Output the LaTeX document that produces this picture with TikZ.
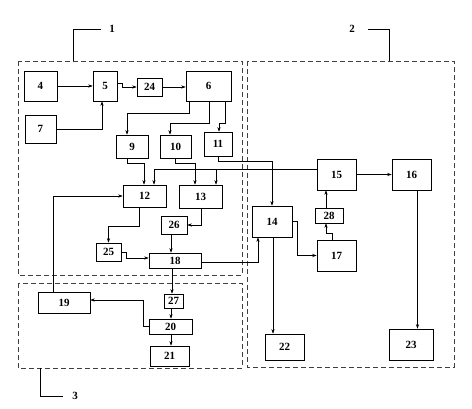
\documentclass[tikz,border=0pt]{standalone}
\usepackage{fontspec}
\setmainfont{Liberation Serif}
\usetikzlibrary{arrows.meta,calc}
\tikzset{
  box/.style={draw, line width=0.6pt, inner sep=0pt, font=\fontsize{11}{13}\selectfont\bfseries},
  arr/.style={line width=0.6pt, -{Stealth[length=4.5pt,width=3.2pt]}},
  ln/.style={line width=0.6pt},
  grp/.style={line width=0.6pt, black!75, dash pattern=on 5pt off 3pt},
  lbl/.style={font=\fontsize{11}{13}\selectfont\bfseries, inner sep=0pt}
}
\begin{document}
\begin{tikzpicture}[x=1pt,y=-1pt]
\useasboundingbox (0,0) rectangle (472,409);
% groups
\draw[grp] (18,61) rectangle (242,275);
\draw[grp] (247,61) rectangle (454,367);
\draw[grp] (18,283) rectangle (242,368);
% leaders
\node[lbl] (l1) at (112,29) {1};
\node[lbl] (l2) at (352,29) {2};
\node[lbl] (l3) at (75,396) {3};
\coordinate (g1) at (73,61);
\coordinate (g2) at (389,61);
\coordinate (g3) at (40,368);
\draw[ln] (g1) |- ([xshift=-11pt]l1.center);
\draw[ln] (g2) |- ([xshift=16pt]l2.center);
\draw[ln] (g3) |- ([xshift=-12pt]l3.center);
% boxes
\node[box, minimum width=33, minimum height=30] (b4) at (40.5,86) {4};
\node[box, minimum width=24, minimum height=30] (b5) at (105,86) {5};
\node[box, minimum width=25, minimum height=18] (b24) at (149.5,87) {24};
\node[box, minimum width=45, minimum height=30] (b6) at (208.5,86) {6};
\node[box, minimum width=31, minimum height=28] (b7) at (40.5,129) {7};
\node[box, minimum width=32, minimum height=23] (b9) at (132,146.5) {9};
\node[box, minimum width=31, minimum height=23] (b10) at (175.5,146.5) {10};
\node[box, minimum width=28, minimum height=24] (b11) at (218,144) {11};
\node[box, minimum width=43, minimum height=22] (b12) at (144.5,196) {12};
\node[box, minimum width=43, minimum height=23] (b13) at (200.5,196.5) {13};
\node[box, minimum width=26, minimum height=18] (b26) at (174,225) {26};
\node[box, minimum width=25, minimum height=18] (b25) at (108.5,252) {25};
\node[box, minimum width=52, minimum height=15] (b18) at (175,260.5) {18};
\node[box, minimum width=40, minimum height=31] (b14) at (272,221.5) {14};
\node[box, minimum width=39, minimum height=31] (b15) at (336.5,174.5) {15};
\node[box, minimum width=39, minimum height=31] (b16) at (411.5,174.5) {16};
\node[box, minimum width=28, minimum height=15] (b28) at (329,215.5) {28};
\node[box, minimum width=39, minimum height=31] (b17) at (336.5,255.5) {17};
\node[box, minimum width=52, minimum height=21] (b19) at (64,302.5) {19};
\node[box, minimum width=19, minimum height=14] (b27) at (173.5,301) {27};
\node[box, minimum width=43, minimum height=15] (b20) at (170.5,326.5) {20};
\node[box, minimum width=39, minimum height=20] (b21) at (169.5,356) {21};
\node[box, minimum width=39, minimum height=26] (b22) at (284.5,347) {22};
\node[box, minimum width=44, minimum height=31] (b23) at (411,344.5) {23};
% connectors
\draw[arr] (b4.east) -- (b5.west);
\draw[arr] (b7.east) -| ([xshift=-3pt]b5.south);
\draw[arr] ([yshift=3pt]b5.east) -- ++(5,0) |- (b24.west);
\draw[arr] (b24.east) -- (b24.east -| b6.west);
\draw[arr] ([xshift=-19.5pt]b6.south) -- ++(0,12) -| ([xshift=-5pt]b9.north);
\draw[arr] ([xshift=0.5pt]b6.south) -- ++(0,22) -| ([xshift=-5.5pt]b10.north);
\draw[arr] ([xshift=16.5pt]b6.south) -- ++(0,22) -| ([xshift=1pt]b11.north);
\draw[arr] ([xshift=-5pt]b9.south) -- ++(0,5) -| ([xshift=-0.5pt]b12.north);
\draw[arr] ([xshift=-0.5pt]b10.south) -- ++(0,5) -| ([xshift=-5.5pt]b13.north);
\draw[arr] (b11.south) -- ++(0,5) -| (b14.north);
\draw[arr] ([yshift=5.5pt]b15.west) -| ([xshift=9.5pt]b12.north);
\draw[arr] ([yshift=5.5pt]b15.west) -| ([xshift=15.5pt]b13.north);
\draw[arr] ([xshift=-5.5pt]b12.south) -- ++(0,19) -| (b25.north);
\draw[arr] ([xshift=0.5pt]b13.south) |- (b26.east);
\draw[arr] ([xshift=-3pt]b26.south) -- ([xshift=-3pt]b26.south |- b18.north);
\draw[arr] (b25.east) -- ++(5,0) |- ([yshift=2.5pt]b18.west);
\draw[arr] ([yshift=-1.5pt]b18.east) -| ([xshift=-14pt]b14.south);
\draw[arr] ([xshift=-11pt]b19.north) |- (b12.west);
\draw[arr] (b14.east) -- ++(5,0) |- (b17.west);
\draw[arr] ([xshift=-4.5pt]b17.north) -- ++(0,-6) -| ([xshift=-3pt]b28.south);
\draw[arr] ([xshift=-3pt]b28.north) -- ([xshift=-3pt]b28.north |- b15.south);
\draw[arr] (b15.east) -- (b16.west);
\draw[arr] ([xshift=6pt]b16.south) -- ([xshift=6pt]b16.south |- b23.north);
\draw[arr] ([xshift=1pt]b14.south) -- ([xshift=1pt]b14.south |- b22.north);
\draw[arr] ([xshift=-3pt]b18.south) -- ([xshift=-3pt]b18.south |- b27.north);
\draw[arr] ([xshift=-2.5pt]b27.south) -- ([xshift=-2.5pt]b27.south |- b20.north);
\draw[arr] ([xshift=0.5pt]b20.south) -- ([xshift=0.5pt]b20.south |- b21.north);
\draw[arr] (b20.west) -- ++(-5,0) |- ([yshift=2.5pt]b19.east);
\end{tikzpicture}
\end{document}
